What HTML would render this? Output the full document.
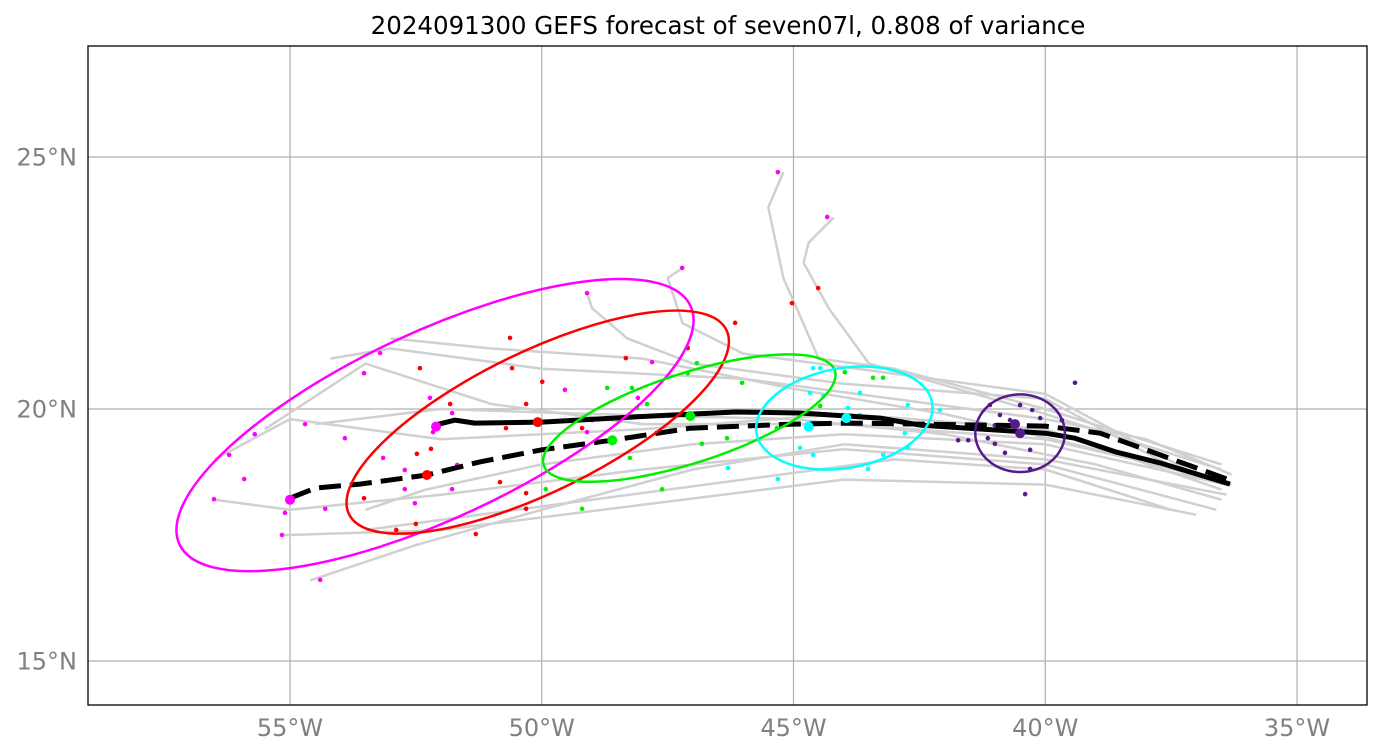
<!DOCTYPE html>
<html><head><meta charset="utf-8"><style>
html,body{margin:0;padding:0;background:#fff;}
svg{display:block;font-family:"DejaVu Sans","Liberation Sans",sans-serif;}
</style></head><body>
<svg id="chart" width="1382" height="755" viewBox="0 0 1382 755" xmlns="http://www.w3.org/2000/svg">
<text x="728" y="34" text-anchor="middle" font-size="24.5" fill="#000">2024091300 GEFS forecast of seven07l, 0.808 of variance</text>
<defs><clipPath id="clip"><rect x="88" y="46" width="1279" height="659"/></clipPath></defs>
<g id="grid"></g>
<g id="plot" clip-path="url(#clip)"></g>
<rect x="88" y="46" width="1279" height="659" fill="none" stroke="#000" stroke-width="1.3"/>
<g id="labels"></g>
</svg>
<script>
const lonTicks=[-55,-50,-45,-40,-35];
const lonLabels=["55°W","50°W","45°W","40°W","35°W"];
const latTicks=[25,20,15];
const latLabels=["25°N","20°N","15°N"];
const tracks=[
[[-36.3,18.7],[-38,19.4],[-40,19.8],[-43,20.2],[-46,20.6],[-50,20.8],[-53,21.2],[-54.2,21.0]],
[[-36.3,18.5],[-39,19.2],[-42,19.9],[-45,20.4],[-48,21.0],[-51,21.2],[-53,21.4]],
[[-36.5,18.4],[-40,19.6],[-44,19.9],[-48,19.6],[-52,19.4],[-55,19.8],[-56.5,19.0]],
[[-36.6,18.0],[-40,18.9],[-44,19.2],[-48,18.8],[-52,18.3],[-55,18.0],[-56.5,18.2]],
[[-37,17.9],[-40,18.5],[-44,18.6],[-48,18.1],[-52,17.6],[-55,17.5],[-55.2,17.5]],
[[-36.4,18.3],[-40,19.0],[-44,19.3],[-47,18.8],[-50,18.0],[-52.5,17.3],[-54,16.8],[-54.6,16.6]],
[[-36.5,18.8],[-40,19.9],[-43.5,20.9],[-44.3,22.0],[-44.8,22.9],[-44.7,23.3],[-44.2,23.8]],
[[-36.5,18.9],[-40,20.0],[-43,20.8],[-44.5,21.0],[-45.2,22.6],[-45.5,24.0],[-45.2,24.7]],
[[-37,18.7],[-40,20.3],[-43,20.7],[-46,21.1],[-47.2,21.7],[-47.5,22.6],[-47.2,22.8]],
[[-37,18.6],[-40,20.2],[-44,20.5],[-47,20.9],[-48.3,21.4],[-49,22.0],[-49.1,22.3]],
[[-36.5,18.2],[-39,18.9],[-42,19.5],[-45,19.8],[-49,19.9],[-52,20.0],[-54.5,19.7]],
[[-36.5,18.6],[-40,19.4],[-44,19.7],[-48,19.7],[-51,20.1],[-53.5,20.9],[-55.5,19.6]],
[[-37.5,18.0],[-40,18.8],[-43,19.0],[-46,18.6],[-49,18.2],[-52,17.8],[-53.5,17.6]],
[[-36.4,18.5],[-40,19.3],[-44,19.5],[-47,19.3],[-50,18.9],[-52.3,18.4],[-53.5,18.0]]
];
const meanTrack=[[-52.12,19.68],[-51.72,19.78],[-51.33,19.72],[-50.0,19.74],[-47.85,19.86],[-46.16,19.94],[-44.87,19.92],[-43.28,19.82],[-42.49,19.68],[-40.0,19.52],[-39.41,19.42],[-38.61,19.15],[-37.72,18.93],[-36.33,18.51]];
const dashTrack=[[-55,18.23],[-54.5,18.43],[-53.61,18.51],[-52.28,18.69],[-51.23,18.95],[-50,19.19],[-48.6,19.38],[-47.05,19.62],[-45,19.70],[-43.87,19.72],[-42.49,19.70],[-40,19.66],[-38.91,19.52],[-36.33,18.59]];
const colors=["#ff00ff","#ff0000","#00ee00","#00ffff","#551a8b"];
const colorNames=["magenta","red","green","cyan","purple"];
const dotsMagenta=[[-45.31,24.70],[-44.33,23.81],[-47.21,22.80],[-49.10,22.30],[-56.51,18.21],[-55.91,18.61],[-56.21,19.09],[-55.70,19.50],[-54.70,19.70],[-53.91,19.42],[-53.53,20.71],[-53.21,21.11],[-52.22,20.22],[-51.78,19.92],[-52.16,19.54],[-51.68,18.89],[-51.78,18.41],[-52.52,18.13],[-52.72,18.41],[-52.72,18.79],[-53.15,19.03],[-55.16,17.50],[-55.10,17.94],[-54.40,16.61],[-54.30,18.02],[-49.10,19.54],[-49.54,20.38],[-49.00,19.78],[-48.09,20.22],[-47.81,20.93]];
const dotsRed=[[-45.03,22.10],[-44.51,22.40],[-46.16,21.71],[-47.10,21.21],[-48.33,21.01],[-50.63,21.41],[-50.59,20.81],[-52.42,20.81],[-51.82,20.10],[-49.99,20.54],[-50.31,20.10],[-50.71,19.62],[-52.20,19.21],[-52.48,19.11],[-52.50,17.72],[-52.89,17.60],[-51.31,17.52],[-50.31,18.33],[-50.31,18.02],[-50.83,18.55],[-53.53,18.23],[-49.20,19.62]];
const dotsGreen=[[-48.70,20.42],[-48.21,20.42],[-48.11,20.02],[-47.91,20.10],[-47.10,20.71],[-46.92,20.91],[-46.02,20.52],[-46.32,19.42],[-46.82,19.31],[-48.25,19.03],[-47.61,18.41],[-49.92,18.41],[-49.20,18.02],[-43.98,20.73],[-43.42,20.62],[-43.22,20.62],[-44.47,20.06],[-45.33,19.62]];
const dotsCyan=[[-44.61,20.81],[-44.47,20.81],[-43.68,20.32],[-43.92,20.02],[-44.41,20.26],[-44.67,20.32],[-43.68,19.88],[-44.87,19.23],[-44.61,19.09],[-45.31,18.61],[-46.30,18.83],[-42.73,20.08],[-42.79,19.52],[-42.73,19.23],[-43.52,18.81],[-43.22,19.09],[-42.09,19.98],[-44.67,19.68]];
const dotsPurple=[[-39.41,20.52],[-41.10,20.08],[-40.90,19.88],[-40.50,20.08],[-40.26,19.98],[-40.10,19.82],[-40.70,19.78],[-41.00,19.68],[-41.14,19.42],[-41.73,19.38],[-41.53,19.38],[-41.00,19.31],[-40.80,19.13],[-40.30,19.19],[-40.30,18.81],[-40.40,18.31],[-39.67,19.78]];
const bigDots=[[[-55,18.2],[-52.1,19.65]],[[-52.28,18.69],[-50.08,19.74]],[[-48.6,19.38],[-47.05,19.86]],[[-44.7,19.65],[-43.95,19.82]],[[-40.5,19.52],[-40.6,19.7]]];
const ellCenters=[[-52.12,19.68],[-50.08,19.74],[-47.07,19.82],[-43.99,19.82],[-40.5,19.52]];
const ellMajor=[5.6,4.17,3.04,1.77,0.89];
const ellMinor=[1.85,1.39,0.89,0.99,0.77];
const ellAngle=[25,26,18,10,0];

const NS="http://www.w3.org/2000/svg";
const x0=290,pxLon=50.35,y0=409,pxLat=50.4;
function sx(lon){return x0+(lon+55)*pxLon;}
function sy(lat){return y0-(lat-20)*pxLat;}
function mk(tag,attrs,parent){const e=document.createElementNS(NS,tag);for(const k in attrs)e.setAttribute(k,attrs[k]);parent.appendChild(e);return e;}
const grid=document.getElementById('grid'),plot=document.getElementById('plot'),labels=document.getElementById('labels');
lonTicks.forEach((t,i)=>{
 const l=mk('line',{x1:sx(t),x2:sx(t),y1:46,y2:705,stroke:'#b0b0b0','stroke-width':1.2},grid);
 
 
 const tx=mk('text',{x:sx(t),y:736,'text-anchor':'middle','font-size':24,fill:'#808080'},labels);
 tx.textContent=lonLabels[i];
 
 
});
latTicks.forEach((t,i)=>{
 const l=mk('line',{x1:88,x2:1367,y1:sy(t),y2:sy(t),stroke:'#b0b0b0','stroke-width':1.2},grid);
 
 
 const tx=mk('text',{x:77,y:sy(t)+8.5,'text-anchor':'end','font-size':24,fill:'#808080'},labels);
 tx.textContent=latLabels[i];
 
 
});
function pts(arr){return arr.map(p=>sx(p[0]).toFixed(1)+','+sy(p[1]).toFixed(1)).join(' ');}
tracks.forEach(tr=>{
 const p=mk('polyline',{points:pts(tr),fill:'none',stroke:'#d0d0d0','stroke-width':2.5,'stroke-linejoin':'round'},plot);
 
 
});
const allDots=[dotsMagenta,dotsRed,dotsGreen,dotsCyan,dotsPurple];
allDots.forEach((ds,ci)=>{ds.forEach(d=>{
 const c=mk('circle',{cx:sx(d[0]),cy:sy(d[1]),r:2.3,fill:colors[ci]},plot);
 
 
});});
const m=mk('polyline',{points:pts(meanTrack),fill:'none',stroke:'#000','stroke-width':5,'stroke-linejoin':'round'},plot);


const d=mk('polyline',{points:pts(dashTrack),fill:'none',stroke:'#000','stroke-width':5,'stroke-dasharray':'22,9','stroke-linejoin':'round'},plot);


ellCenters.forEach((c,i)=>{
 const cx=sx(c[0]),cy=sy(c[1]);
 const e=mk('ellipse',{cx:cx,cy:cy,rx:ellMajor[i]*pxLon,ry:ellMinor[i]*pxLat,fill:'none',stroke:colors[i],'stroke-width':2.5,transform:'rotate('+(-ellAngle[i])+' '+cx+' '+cy+')'},plot);
 
 
});
bigDots.forEach((bd,ci)=>{bd.forEach(p=>{
 const c=mk('circle',{cx:sx(p[0]),cy:sy(p[1]),r:5,fill:colors[ci]},plot);
 
 
});});
</script>
</body></html>
